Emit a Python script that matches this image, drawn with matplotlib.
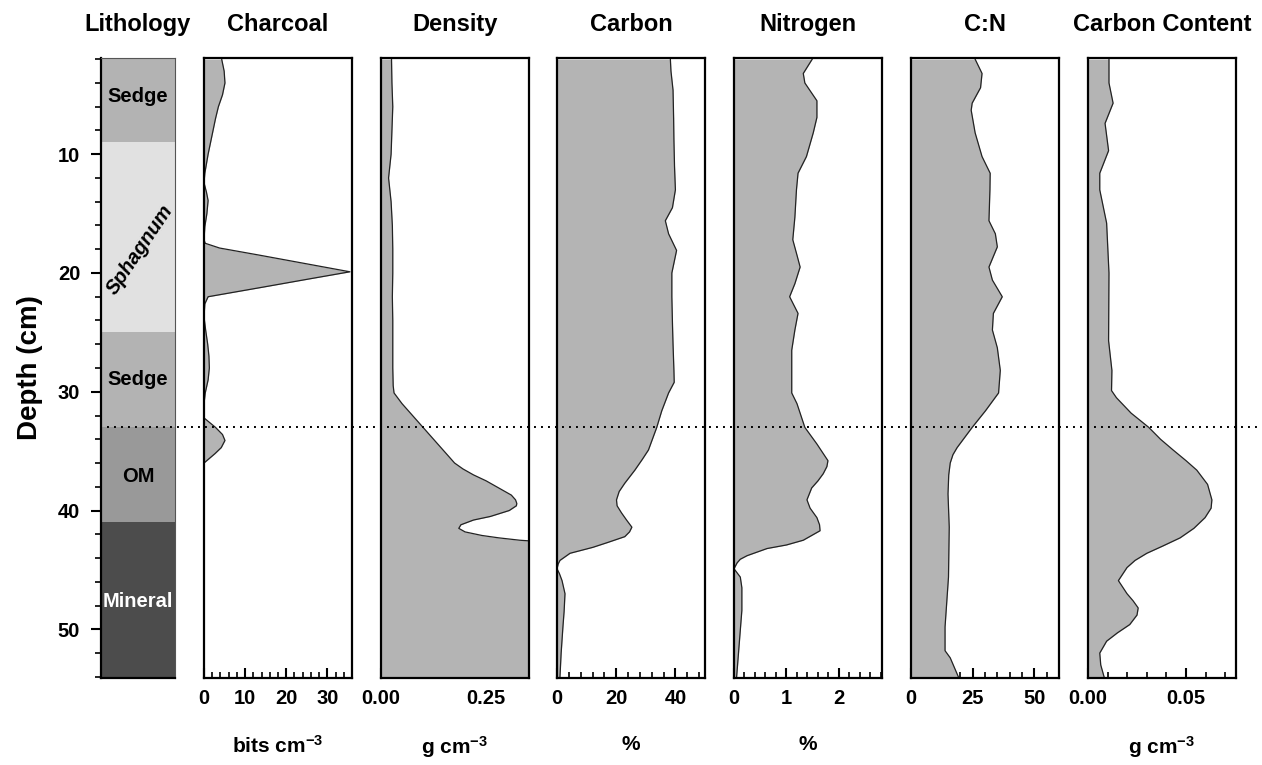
"""peat core profiles: lithology plus six down-core panels"""
import matplotlib
matplotlib.use("Agg")
import matplotlib.pyplot as plt
from matplotlib import transforms
from matplotlib.lines import Line2D
from matplotlib.ticker import MultipleLocator, FormatStrFormatter

plt.rcParams['font.family'] = ['Liberation Sans', 'DejaVu Sans']
plt.rcParams['font.weight'] = 'bold'
plt.rcParams['mathtext.fontset'] = 'custom'
plt.rcParams['mathtext.rm'] = 'Liberation Sans:bold'
plt.rcParams['mathtext.bf'] = 'Liberation Sans:bold'
plt.rcParams['mathtext.default'] = 'bf'

# lithology column
litho_top = [2, 9, 25, 33, 41]
litho_bottom = [9, 25, 33, 41, 54]
litho_names = ["Sedge", "Sphagnum", "Sedge", "OM", "Mineral"]
litho_label_depth = [5.1, 18.0, 29.0, 37.1, 47.7]
boundary_depth = 33

# charcoal (bits cm-3)
charcoal_depth = [2, 3, 4, 5, 6, 7, 8, 9, 10, 11, 11.6, 12.4, 13.2, 13.9, 15, 16.1,
                  17.2, 17.5, 17.9, 18.5, 19.2, 19.9, 20.5, 21.2, 22.0, 22.6, 23.7,
                  24.8, 26, 27, 28, 29, 30.1, 31, 32.2, 33, 33.6, 34.1, 34.7, 35.2,
                  36, 37, 38]
charcoal = [4.3, 4.9, 5.1, 4.5, 3.5, 2.8, 2.2, 1.6, 1.0, 0.5, 0.2, 0.0, 0.6, 1.0, 0.7,
            0.2, 0.0, 0.3, 3.8, 13.5, 24.5, 35.5, 25.6, 14.2, 1.0, 0.2, 0.0, 0.4,
            0.9, 1.2, 1.3, 1.0, 0.3, 0.0, 0.0, 2.8, 4.5, 5.1, 4.2, 2.7, 0.0, 0.0, 0.0]

# bulk density (g cm-3)
density_depth = [2, 4, 6, 8, 10, 12, 14, 16, 18, 20, 22, 24, 26, 28, 29.5, 30.1, 31,
                 32, 33, 34, 35, 36, 36.5, 37, 37.5, 38.3, 38.7, 39.1, 39.4, 39.6,
                 40, 40.5, 40.8, 41.0, 41.2, 41.5, 41.8, 42.1, 42.3, 42.5, 42.8, 44,
                 54]
density = [0.025, 0.026, 0.028, 0.026, 0.024, 0.018, 0.024, 0.027, 0.028, 0.028,
           0.027, 0.028, 0.028, 0.028, 0.029, 0.031, 0.05, 0.075, 0.1, 0.125, 0.15,
           0.175, 0.195, 0.22, 0.25, 0.29, 0.31, 0.32, 0.323, 0.322, 0.305, 0.26,
           0.22, 0.205, 0.19, 0.185, 0.2, 0.24, 0.28, 0.33, 0.45, 0.9, 0.9]

# carbon (%)
carbon_depth = [2, 3, 4.6, 7, 8.8, 11, 13, 14.5, 15.6, 16.7, 18.1, 20, 22, 24.2, 26,
                28.2, 29.2, 30.1, 31.6, 33, 34.9, 35.7, 36.6, 37.7, 38.4, 39.1, 39.6,
                40.2, 40.8, 41.4, 41.8, 42.2, 42.7, 43.1, 43.6, 44.2, 44.5, 44.9,
                45.3, 45.9, 47, 48.5, 49.8, 52, 54]
carbon = [38.3, 38.5, 39.2, 39.4, 39.5, 39.7, 40.0, 39.0, 36.6, 37.7, 40.4, 38.8,
          38.8, 39.0, 39.2, 39.5, 39.6, 37.7, 35.4, 33.7, 30.9, 28.8, 26.3, 22.9,
          21.0, 20.1, 20.3, 21.8, 23.5, 25.3, 24.5, 22.9, 17.0, 12.1, 4.4, 1.0,
          0.4, 0.0, 0.8, 1.7, 2.7, 2.4, 2.0, 1.4, 1.0]

# nitrogen (%)
nitrogen_depth = [2, 3.2, 4, 5.5, 6.9, 8.2, 10.2, 11.6, 13, 15.3, 17.2, 18.5, 19.5,
                  20.9, 22, 23.4, 24.8, 26.5, 28.2, 30.1, 31, 33, 34.4, 35.2, 35.8,
                  36.3, 36.9, 37.5, 38.1, 39.1, 39.8, 40.6, 41.2, 41.7, 42.5, 42.9,
                  43.2, 43.8, 44.1, 44.4, 44.9, 45.6, 46.5, 48.4, 51.2, 54]
nitrogen = [1.49, 1.32, 1.35, 1.58, 1.58, 1.51, 1.38, 1.22, 1.19, 1.16, 1.12, 1.2,
            1.26, 1.16, 1.06, 1.22, 1.16, 1.10, 1.10, 1.10, 1.2, 1.35, 1.58, 1.70,
            1.79, 1.77, 1.70, 1.60, 1.48, 1.39, 1.45, 1.58, 1.63, 1.64, 1.32, 1.0,
            0.63, 0.25, 0.12, 0.06, 0.0, 0.12, 0.15, 0.15, 0.10, 0.05]

# C:N ratio
cn_depth = [2, 3.2, 4.4, 5.7, 6.3, 8.2, 10.2, 11.6, 13, 15.6, 16.7, 17.8, 19.5, 20.6,
            22, 23.4, 24.8, 26.3, 28.2, 30.1, 31.6, 32.3, 33, 34.7, 35.3, 36, 37,
            38.6, 41.4, 45.6, 49.8, 51.8, 52.4, 54]
cn = [26, 28.8, 28.2, 24.8, 24.4, 26, 28.8, 32.1, 32, 31.6, 34.2, 35, 31.6, 33, 37,
      33.4, 33, 35, 36.2, 35.5, 30.2, 27.5, 24.8, 18.7, 17.0, 15.9, 15.3, 15, 15.5,
      15.2, 13.8, 13.8, 15.9, 19.2]

# carbon content (g cm-3)
cc_depth = [2, 4, 5.7, 7.4, 9.7, 11.6, 13, 15.8, 20, 25.7, 28.2, 29.9, 30.5, 31.8,
            33, 34, 34.9, 35.8, 36.6, 37.8, 39.1, 39.8, 40.6, 41.5, 42.3, 43, 43.6,
            44.2, 44.8, 45.9, 47, 47.6, 48.2, 48.8, 49.6, 50.3, 51, 52, 53, 54]
carbon_content = [0.0107, 0.0107, 0.0128, 0.0087, 0.0105, 0.006, 0.006, 0.0095,
                  0.0107, 0.0105, 0.0122, 0.012, 0.0145, 0.022, 0.031, 0.037,
                  0.0434, 0.050, 0.0555, 0.061, 0.0632, 0.0628, 0.0597, 0.054,
                  0.047, 0.038, 0.030, 0.024, 0.0199, 0.0155, 0.0199, 0.023,
                  0.0256, 0.025, 0.0213, 0.015, 0.0095, 0.006, 0.0065, 0.0082]

titles = ["Charcoal", "Density", "Carbon", "Nitrogen", "C:N", "Carbon Content"]
units = ["bits cm$^{-3}$", "g cm$^{-3}$", "%", "%", "", "g cm$^{-3}$"]
series = [(charcoal_depth, charcoal), (density_depth, density),
          (carbon_depth, carbon), (nitrogen_depth, nitrogen),
          (cn_depth, cn), (cc_depth, carbon_content)]
x_limits = [36, 0.352, 50, 2.82, 60, 0.0755]
major_step = [10, 0.25, 20, 1, 25, 0.05]
minor_step = [2, 0.05, 4, 0.2, 5, 0.01]
tick_format = ["%d", "%.2f", "%d", "%d", "%d", "%.2f"]

W, H = 1262, 765
FILL = "#b4b4b4"
LITHO_COLORS = ["#b3b3b3", "#e1e1e1", "#b3b3b3", "#999999", "#4c4c4c"]
PANEL_LEFT = [204, 381, 557, 734, 911, 1088]
PANEL_W = 148
TOP, BOTTOM = 58, 678
TITLE_SIZE = 17
TICK_SIZE = 14.5


def frame(left, width):
    """axes rect from pixel positions"""
    return [left / W, 1 - BOTTOM / H, width / W, (BOTTOM - TOP) / H]


def plot_lithology(fig):
    """lithology column with the depth axis"""
    ax = fig.add_axes(frame(101, 74))
    for top, bot, col in zip(litho_top, litho_bottom, LITHO_COLORS):
        ax.axhspan(top, bot, color=col, lw=0)
    for name, d in zip(litho_names, litho_label_depth):
        if name == "Sphagnum":
            ax.text(0.52, d, name, ha="center", va="center", fontsize=14.5,
                    style="italic", rotation=56)
        else:
            ax.text(0.5, d, name, ha="center", va="center", fontsize=14.5,
                    color="white" if name == "Mineral" else "black")
    ax.set_xlim(0, 1)
    ax.set_ylim(54.1, 1.9)
    ax.set_xticks([])
    ax.yaxis.set_major_locator(MultipleLocator(10))
    ax.yaxis.set_minor_locator(MultipleLocator(2))
    ax.tick_params(axis="y", which="major", direction="out", length=7, width=1.5,
                   labelsize=TICK_SIZE, pad=8)
    ax.tick_params(axis="y", which="minor", direction="out", length=4, width=1.2)
    for side in ["left", "bottom"]:
        ax.spines[side].set_linewidth(1.6)
    for side in ["top", "right"]:
        ax.spines[side].set_linewidth(0.8)
        ax.spines[side].set_color("#555555")
    ax.set_title("Lithology", fontsize=TITLE_SIZE, fontweight="bold", pad=19.5)
    return ax


def plot_panel(fig, i):
    """one filled depth profile"""
    ax = fig.add_axes(frame(PANEL_LEFT[i], PANEL_W))
    depth, values = series[i]
    ax.fill_betweenx(depth, 0, values, color=FILL, lw=0)
    ax.plot(values, depth, color="#222222", lw=0.9, solid_joinstyle="round")
    ax.set_xlim(0, x_limits[i])
    ax.set_ylim(54.1, 1.9)
    ax.set_axisbelow(True)
    ax.xaxis.set_major_locator(MultipleLocator(major_step[i]))
    ax.xaxis.set_minor_locator(MultipleLocator(minor_step[i]))
    ax.xaxis.set_major_formatter(FormatStrFormatter(tick_format[i]))
    ax.tick_params(axis="x", which="major", direction="in", length=7, width=1.5,
                   labelsize=TICK_SIZE, pad=8)
    ax.tick_params(axis="x", which="minor", direction="in", length=4, width=1.2)
    ax.tick_params(axis="y", left=False, labelleft=False, which="both")
    for sp in ax.spines.values():
        sp.set_linewidth(1.6)
    ax.set_title(titles[i], fontsize=TITLE_SIZE, fontweight="bold", pad=19.5)
    if units[i]:
        ax.set_xlabel(units[i], fontsize=15, fontweight="bold", labelpad=19)
    return ax


fig = plt.figure(figsize=(W / 100, H / 100), dpi=100)
ax_lith = plot_lithology(fig)
for i in range(len(titles)):
    plot_panel(fig, i)

fig.text(30 / W, 1 - 368 / H, "Depth (cm)", rotation=90, ha="center", va="center",
         fontsize=20, fontweight="bold")

# dotted marker across all panels at the OM boundary
trans = transforms.blended_transform_factory(fig.transFigure, ax_lith.transData)
fig.add_artist(Line2D([100 / W, 1.0], [boundary_depth, boundary_depth], transform=trans,
                      color="black", lw=1.4, linestyle=(0, (1, 2.6)), zorder=10))

fig.savefig("out.png", dpi=100)
plt.close(fig)
